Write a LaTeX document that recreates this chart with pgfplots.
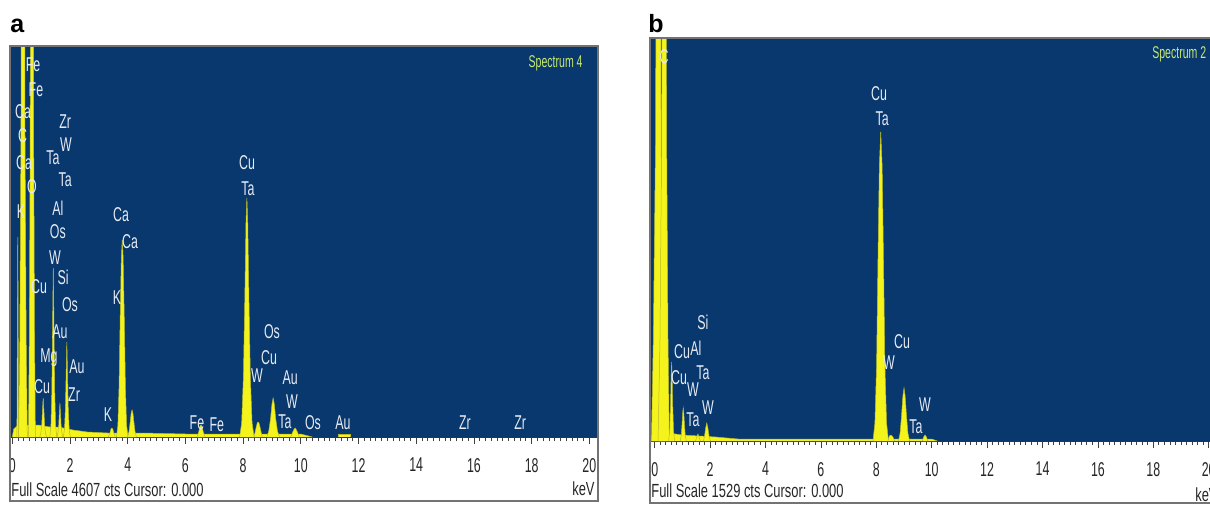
\documentclass[border=0pt]{standalone}
\usepackage{fontspec}
\setmainfont{Liberation Sans}
\usepackage{pgfplots}
\pgfplotsset{compat=1.18}
\definecolor{specblue}{RGB}{8,56,110}
\definecolor{specyellow}{RGB}{244,244,28}
\definecolor{peakedge}{RGB}{185,185,40}
\definecolor{labwhite}{RGB}{230,234,242}
\definecolor{speclab}{RGB}{200,232,110}
\newcommand\cnd[1]{\scalebox{0.62}[1]{#1}}
\pgfplotscreateplotcyclelist{edslist}{fill=specyellow,draw=peakedge,line width=0.25pt,mark=none\\}
\pgfplotsset{
 eds/.style={
  scale only axis,
  axis background/.style={fill=specblue},
  axis x line*=bottom,
  axis y line=none,
  ymin=0,
  xtick={0,2,4,6,8,10,12,14,16,18,20},
  xticklabels={\cnd{0},\cnd{2},\cnd{4},\cnd{6},\cnd{8},\cnd{10},\cnd{12},\cnd{14},\cnd{16},\cnd{18},\cnd{20}},
  minor x tick num=9,
  tick align=outside,
  major tick length=3.5pt, minor tick length=2pt,
  tick style={black!75, line width=0.4pt},
  x axis line style={black!80, line width=0.5pt, -},
  xticklabel style={font=\fontsize{10}{11}\selectfont, text=black!85, anchor=north, yshift=-3.5pt},
  cycle list name=edslist,
 },
}
\tikzset{lab/.style={text=labwhite, font=\fontsize{10}{11}\selectfont, inner sep=0pt}}
\begin{document}
\begin{tikzpicture}
\path[use as bounding box] (0pt,0pt) rectangle (605pt,252pt);
\node[anchor=base west, font=\fontsize{12.5}{14}\selectfont\bfseries, inner sep=0pt] at (5pt,235.5pt) {a};
\node[anchor=base west, font=\fontsize{12.5}{14}\selectfont\bfseries, inner sep=0pt] at (324pt,235.5pt) {b};
% ---------------- panel a ----------------
\begin{axis}[eds, at={(5pt,33.5pt)}, anchor=south west, width=294pt, height=195.5pt,
  xmin=-0.08, xmax=20.3, ymax=391]
\addplot coordinates {(0,0) (0.05,8) (0.2,12) (0.9,12) (1.3,10) (1.6,10) (2.1,7) (2.6,5) (3.3,4) (4.5,4) (6,3) (8,3) (10,3) (10.4,0)};
\addplot coordinates {(0.16,0) (0.18,140) (0.19,200) (0.20,140) (0.22,0)};
\addplot coordinates {(0.22,0) (0.26,100) (0.30,300) (0.34,900) (0.37,3000) (0.40,900) (0.44,300) (0.48,100) (0.52,0)};
\addplot coordinates {(0.56,0) (0.59,100) (0.62,300) (0.655,900) (0.68,3000) (0.705,900) (0.74,300) (0.77,100) (0.80,0)};
\addplot coordinates {(0.95,0) (0.99,4) (1.02,12) (1.045,26) (1.07,39) (1.095,26) (1.12,12) (1.15,4) (1.19,0)};
\addplot coordinates {(1.30,0) (1.34,12) (1.37,45) (1.395,110) (1.42,169) (1.445,110) (1.47,45) (1.50,12) (1.54,0)};
\addplot coordinates {(1.55,0) (1.58,4) (1.61,12) (1.63,24) (1.65,34) (1.67,24) (1.69,12) (1.72,4) (1.75,0)};
\addplot coordinates {(1.77,0) (1.81,8) (1.84,28) (1.865,62) (1.89,95) (1.915,62) (1.94,28) (1.97,8) (2.01,0)};
\addplot coordinates {(3.33,0) (3.38,4) (3.42,8) (3.45,9) (3.48,8) (3.52,4) (3.57,0)};
\addplot coordinates {(3.61,0) (3.66,12) (3.70,50) (3.74,120) (3.78,180) (3.81,197) (3.84,180) (3.88,120) (3.92,50) (3.96,12) (4.01,0)};
\addplot coordinates {(4.00,0) (4.05,6) (4.09,16) (4.12,24) (4.15,27) (4.18,24) (4.21,16) (4.25,6) (4.30,0)};
\addplot coordinates {(6.40,0) (6.46,5) (6.51,11) (6.54,12) (6.57,11) (6.62,5) (6.68,0)};
\addplot coordinates {(7.88,0) (7.95,14) (8.01,60) (8.06,140) (8.10,215) (8.13,239) (8.16,215) (8.20,140) (8.25,60) (8.31,14) (8.38,0)};
\addplot coordinates {(8.38,0) (8.44,8) (8.49,14) (8.52,15) (8.55,14) (8.60,8) (8.66,0)};
\addplot coordinates {(8.82,0) (8.89,6) (8.95,18) (9.00,33) (9.04,39) (9.08,33) (9.13,18) (9.19,6) (9.26,0)};
\addplot coordinates {(9.65,0) (9.72,5) (9.77,8) (9.80,9) (9.83,8) (9.88,5) (9.95,0)};
\addplot coordinates {(11.30,0) (11.30,3) (11.72,3) (11.72,0)};
\node[lab] at (axis cs:0.72,372) {\cnd{Fe}};
\node[lab] at (axis cs:0.82,347) {\cnd{Fe}};
\node[lab] at (axis cs:0.37,325) {\cnd{Ca}};
\node[lab] at (axis cs:0.36,301) {\cnd{C}};
\node[lab] at (axis cs:0.41,274) {\cnd{Ca}};
\node[lab] at (axis cs:0.68,250) {\cnd{O}};
\node[lab] at (axis cs:0.30,225) {\cnd{K}};
\node[lab] at (axis cs:1.83,315) {\cnd{Zr}};
\node[lab] at (axis cs:1.86,292) {\cnd{W}};
\node[lab] at (axis cs:1.41,279) {\cnd{Ta}};
\node[lab] at (axis cs:1.83,257) {\cnd{Ta}};
\node[lab] at (axis cs:1.58,229) {\cnd{Al}};
\node[lab] at (axis cs:1.58,205) {\cnd{Os}};
\node[lab] at (axis cs:1.48,179) {\cnd{W}};
\node[lab] at (axis cs:1.76,160) {\cnd{Si}};
\node[lab] at (axis cs:0.93,150) {\cnd{Cu}};
\node[lab] at (axis cs:2.00,132) {\cnd{Os}};
\node[lab] at (axis cs:1.65,105) {\cnd{Au}};
\node[lab] at (axis cs:1.27,79) {\cnd{Mg}};
\node[lab] at (axis cs:2.24,70) {\cnd{Au}};
\node[lab] at (axis cs:1.03,50) {\cnd{Cu}};
\node[lab] at (axis cs:2.14,42) {\cnd{Zr}};
\node[lab] at (axis cs:3.63,139) {\cnd{K}};
\node[lab] at (axis cs:3.77,222) {\cnd{Ca}};
\node[lab] at (axis cs:4.08,195) {\cnd{Ca}};
\node[lab] at (axis cs:3.32,22) {\cnd{K}};
\node[lab] at (axis cs:6.40,14) {\cnd{Fe}};
\node[lab] at (axis cs:7.09,12) {\cnd{Fe}};
\node[lab] at (axis cs:8.14,274) {\cnd{Cu}};
\node[lab] at (axis cs:8.17,248) {\cnd{Ta}};
\node[lab] at (axis cs:9.00,105) {\cnd{Os}};
\node[lab] at (axis cs:8.90,79) {\cnd{Cu}};
\node[lab] at (axis cs:8.48,61) {\cnd{W}};
\node[lab] at (axis cs:9.63,59) {\cnd{Au}};
\node[lab] at (axis cs:9.69,35) {\cnd{W}};
\node[lab] at (axis cs:9.45,15) {\cnd{Ta}};
\node[lab] at (axis cs:10.42,14) {\cnd{Os}};
\node[lab] at (axis cs:11.46,14) {\cnd{Au}};
\node[lab] at (axis cs:15.69,14) {\cnd{Zr}};
\node[lab] at (axis cs:17.60,14) {\cnd{Zr}};
\node[lab, text=speclab, anchor=east, font=\fontsize{8.5}{9}\selectfont] at (axis cs:19.78,374) {\scalebox{0.62}[1]{Spectrum 4}};
\end{axis}
% ---------------- panel b ----------------
\begin{axis}[eds, at={(325pt,31.5pt)}, anchor=south west, width=283.5pt, height=201.5pt,
  xmin=-0.17, xmax=20.3, ymax=403]
\addplot coordinates {(-0.15,0) (-0.10,6) (0.5,8) (1.0,6) (2.2,4) (3,2) (7.8,2) (10,2) (10.2,0)};
\addplot coordinates {(-0.12,0) (-0.05,100) (0.03,300) (0.09,900) (0.13,3000) (0.17,900) (0.23,300) (0.30,100) (0.36,0)};
\addplot coordinates {(0.12,0) (0.19,100) (0.25,300) (0.30,900) (0.34,3000) (0.38,900) (0.43,300) (0.48,100) (0.53,0)};
\addplot coordinates {(0.50,0) (0.54,10) (0.57,35) (0.59,62) (0.61,79) (0.63,62) (0.65,35) (0.68,10) (0.72,0)};
\addplot coordinates {(0.92,0) (0.96,6) (0.99,18) (1.01,28) (1.03,33) (1.05,28) (1.07,18) (1.10,6) (1.14,0)};
\addplot coordinates {(1.47,0) (1.52,4) (1.56,7) (1.60,4) (1.65,0)};
\addplot coordinates {(1.76,0) (1.80,5) (1.84,13) (1.88,18) (1.92,13) (1.96,5) (2.01,0)};
\addplot coordinates {(7.88,0) (7.95,18) (8.01,75) (8.06,180) (8.11,275) (8.16,309) (8.21,275) (8.26,180) (8.31,75) (8.37,18) (8.44,0)};
\addplot coordinates {(8.42,0) (8.47,5) (8.53,6) (8.60,4) (8.66,0)};
\addplot coordinates {(8.80,0) (8.86,8) (8.91,25) (8.96,45) (9.00,53) (9.04,45) (9.09,25) (9.14,8) (9.20,0)};
\addplot coordinates {(9.66,0) (9.71,4) (9.76,6) (9.81,4) (9.86,0)};
\node[lab] at (axis cs:0.34,384) {\cnd{C}};
\node[lab] at (axis cs:8.10,347) {\cnd{Cu}};
\node[lab] at (axis cs:8.21,322) {\cnd{Ta}};
\node[lab] at (axis cs:1.74,119) {\cnd{Si}};
\node[lab] at (axis cs:0.99,89) {\cnd{Cu}};
\node[lab] at (axis cs:1.49,93) {\cnd{Al}};
\node[lab] at (axis cs:0.88,63) {\cnd{Cu}};
\node[lab] at (axis cs:1.74,68) {\cnd{Ta}};
\node[lab] at (axis cs:1.38,51) {\cnd{W}};
\node[lab] at (axis cs:1.92,33) {\cnd{W}};
\node[lab] at (axis cs:1.38,21) {\cnd{Ta}};
\node[lab] at (axis cs:8.93,99) {\cnd{Cu}};
\node[lab] at (axis cs:8.46,78) {\cnd{W}};
\node[lab] at (axis cs:9.76,36) {\cnd{W}};
\node[lab] at (axis cs:9.43,14) {\cnd{Ta}};
\node[lab, text=speclab, anchor=west, font=\fontsize{8.5}{9}\selectfont] at (axis cs:17.95,387) {\scalebox{0.62}[1]{Spectrum 2}};
\end{axis}
% frames and footers
\draw[black!55, line width=0.6pt] (5pt,1.5pt) rectangle (299pt,229pt);
\draw[black!55, line width=0.6pt] (325pt,0.5pt) rectangle (608pt,233pt);
\node[anchor=west, inner sep=0pt, font=\fontsize{9.5}{10}\selectfont, text=black!85] at (5.5pt,7pt) {\scalebox{0.68}[1]{Full Scale 4607 cts Cursor: 0.000}};
\node[anchor=east, inner sep=0pt, font=\fontsize{9.5}{10}\selectfont, text=black!85] at (297.5pt,7.5pt) {\scalebox{0.68}[1]{keV}};
\node[anchor=west, inner sep=0pt, font=\fontsize{9.5}{10}\selectfont, text=black!85] at (325.5pt,6.7pt) {\scalebox{0.68}[1]{Full Scale 1529 cts Cursor: 0.000}};
\node[anchor=east, inner sep=0pt, font=\fontsize{9.5}{10}\selectfont, text=black!85] at (609pt,4.5pt) {\scalebox{0.68}[1]{keV}};
\end{tikzpicture}
\end{document}
